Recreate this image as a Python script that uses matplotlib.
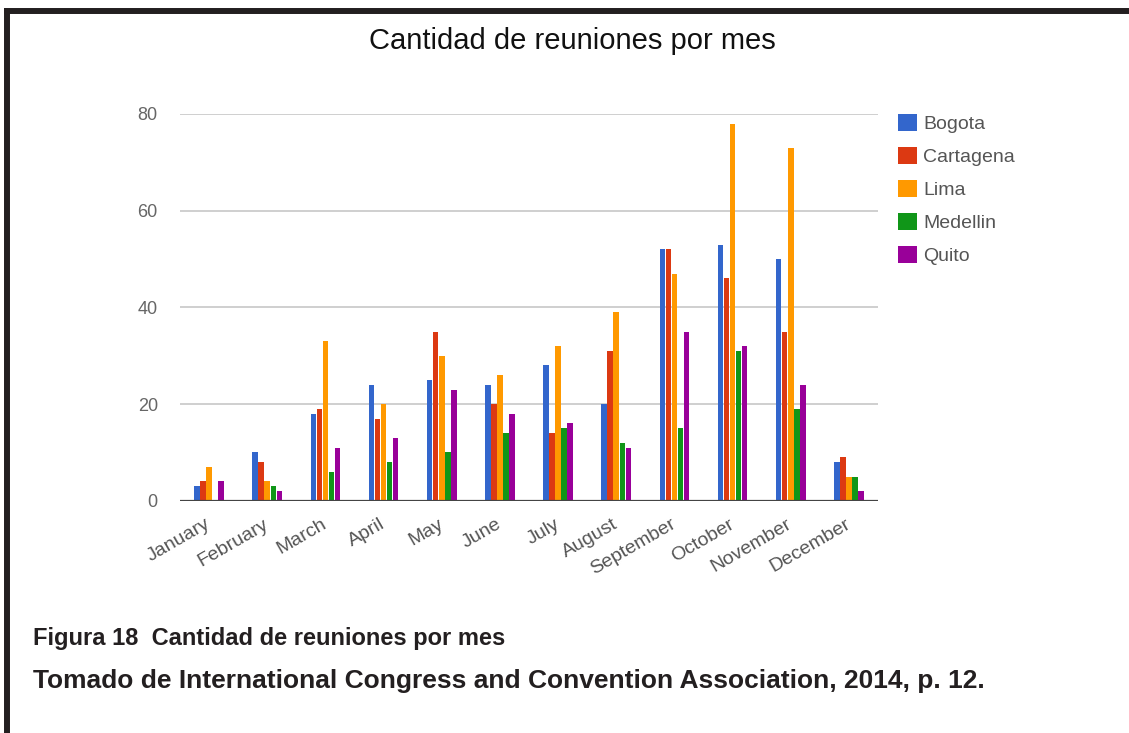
import numpy as np
import matplotlib
matplotlib.use('Agg')
import matplotlib.pyplot as plt
from matplotlib.lines import Line2D
from matplotlib.patches import Patch

plt.rcParams['font.family'] = ['Liberation Sans', 'DejaVu Sans']

# ---- datos ----
months = ['January', 'February', 'March', 'April', 'May', 'June', 'July',
          'August', 'September', 'October', 'November', 'December']
cities = ['Bogota', 'Cartagena', 'Lima', 'Medellin', 'Quito']
bogota = [3, 10, 18, 24, 25, 24, 28, 20, 52, 53, 50, 8]
cartagena = [4, 8, 19, 17, 35, 20, 14, 31, 52, 46, 35, 9]
lima = [7, 4, 33, 20, 30, 26, 32, 39, 47, 78, 73, 5]
medellin = [0, 3, 6, 8, 10, 14, 15, 12, 15, 31, 19, 5]
quito = [4, 2, 11, 13, 23, 18, 16, 11, 35, 32, 24, 2]
yticks = [0, 20, 40, 60, 80]

series = [bogota, cartagena, lima, medellin, quito]
colors = ['#3366cc', '#dc3912', '#ff9900', '#109618', '#990099']

fig = plt.figure(figsize=(11.29, 7.33), dpi=100)
W, H = 1129, 733

ax = fig.add_axes([180 / W, 1 - 500.7 / H, 698 / W, (500.7 - 114) / H])

x = np.arange(len(months))
step = 0.104
for i, (vals, col) in enumerate(zip(series, colors)):
    ax.bar(x + (i - 2) * step, vals, width=step * 0.92, color=col, label=cities[i], zorder=3)

ax.set_xlim(-0.5, len(months) - 0.5)
ax.set_ylim(0, 80)
ax.set_yticks(yticks)
ax.set_yticklabels([str(v) for v in yticks], fontsize=13, color='#666666')
ax.set_xticks(x)
ax.set_xticklabels(months, rotation=30, ha='right', va='center',
                   rotation_mode='anchor', fontsize=14, color='#555555')
ax.tick_params(axis='both', length=0)
ax.tick_params(axis='y', pad=16)
ax.tick_params(axis='x', pad=16)

ax.grid(axis='y', color='#cccccc', linewidth=1.3, zorder=0)
for s in ax.spines.values():
    s.set_visible(False)
ax.axhline(0, color='#444444', linewidth=1.6, zorder=4)

handles = [Patch(facecolor=c, edgecolor='none') for c in colors]
fig.legend(handles, cities, loc='upper left', bbox_to_anchor=(898 / W, 1 - 114 / H),
           frameon=False, fontsize=14, handlelength=1.0, handleheight=1.0,
           handletextpad=0.3, labelspacing=0.7, borderpad=0, borderaxespad=0,
           labelcolor='#555555')

fig.text(0.507, 1 - 41 / H, 'Cantidad de reuniones por mes', ha='center', va='center',
         fontsize=21, color='#111111')

fig.text(33 / W, 1 - 639 / H, 'Figura 18  Cantidad de reuniones por mes', ha='left',
         va='center', fontsize=17, fontweight='bold', color='#231f20')
fig.text(33 / W, 1 - 681 / H,
         'Tomado de International Congress and Convention Association, 2014, p. 12.',
         ha='left', va='center', fontsize=19, fontweight='bold', color='#231f20')

# marco del recuadro
fig.add_artist(Line2D([4 / W, 1], [1 - 11 / H, 1 - 11 / H], color='#231f20',
                      linewidth=4.3, transform=fig.transFigure, solid_capstyle='butt'))
fig.add_artist(Line2D([7 / W, 7 / W], [1 - 8 / H, 0], color='#231f20',
                      linewidth=4.3, transform=fig.transFigure, solid_capstyle='butt'))

fig.savefig('out.png', dpi=100)
